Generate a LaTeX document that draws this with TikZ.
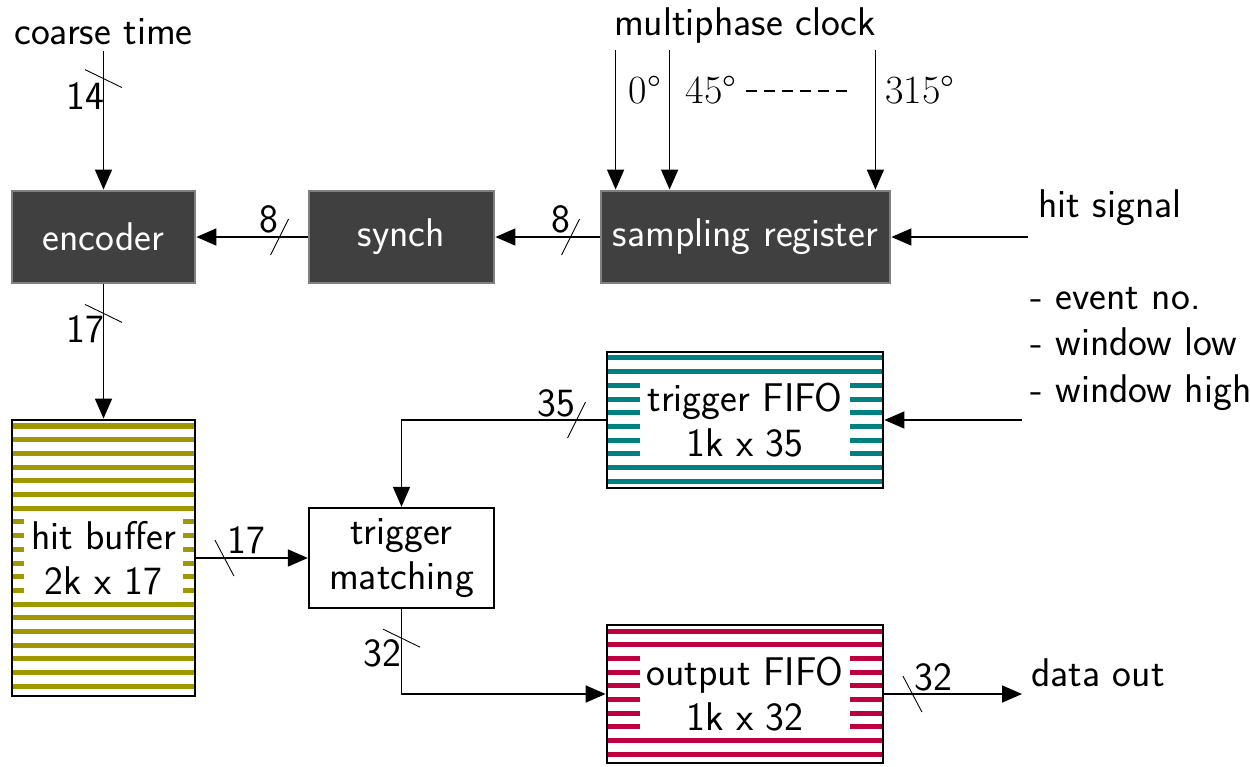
\documentclass[tikz,border=0pt]{standalone}
\usepackage{fontspec}
\usetikzlibrary{arrows.meta}
\definecolor{hitolive}{RGB}{160,152,0}
\definecolor{fifoteal}{RGB}{0,128,128}
\definecolor{fifored}{RGB}{191,0,64}
\definecolor{blockgray}{RGB}{64,64,64}
\tikzset{
  block/.style={draw=gray, line width=1.6pt, fill=blockgray, text=white, minimum height=1.84cm},
  plain/.style={draw, line width=1.3pt, fill=white, align=center},
  memory/.style={draw, line width=1.6pt,
    path picture={\foreach \k in {0,...,21}
      \draw[#1, line width=0.1cm] ([yshift=-0.12cm-\k*0.274cm]path picture bounding box.north west) -- ++(7,0);}},
  memtext/.style={fill=white, align=center, inner xsep=4pt, inner ysep=3pt},
  arr/.style={line width=0.9pt, -{Triangle[length=0.4cm,width=0.34cm]}},
  slash/.style={line width=0.5pt},
  phase/.style={font=\fontsize{22.8}{25.6}\selectfont\rmfamily},
}
\begin{document}
\begin{tikzpicture}[font=\fontsize{22.8}{25.6}\selectfont\sffamily]
\useasboundingbox (0,0) rectangle (25,15.32);
% top row
\node[block, minimum width=3.66cm] (enc) at (2.07,10.58) {encoder};
\node[block, minimum width=3.7cm] (synch) at (8.03,10.58) {synch};
\node[block, minimum width=5.78cm] (samp) at (14.91,10.58) {sampling register};
% memories and matching
\node[memory=hitolive, minimum width=3.66cm, minimum height=5.52cm] (hitbuf) at (2.07,4.16) {};
\node[memtext] (hitbuftxt) at (hitbuf) {hit buffer\\2k x 17};
\node[memory=fifoteal, minimum width=5.52cm, minimum height=2.72cm] (tfifo) at (14.9,6.92) {};
\node[memtext] (tfifotxt) at (tfifo) {trigger FIFO\\1k x 35};
\node[memory=fifored, minimum width=5.52cm, minimum height=2.76cm] (ofifo) at (14.9,1.44) {};
\node[memtext] (ofifotxt) at (ofifo) {output FIFO\\1k x 32};
\node[plain, minimum width=3.7cm, minimum height=2cm] (match) at (8.03,4.16) {trigger\\matching};
% inputs and outputs
\node (ctime) at (2.07,14.68) {coarse time};
\node (clk) at (14.9,14.8) {multiphase clock};
\node (hit) at (22.2,11.16) {hit signal};
\node[align=left, anchor=west, inner sep=0pt, font=\fontsize{22.8}{26.5}\selectfont\sffamily] (trig) at (20.6,8.34) {- event no.\\- window low\\- window high};
\node (dout) at (21.96,1.86) {data out};
\coordinate (hitin) at (20.56,10.58);
\coordinate (trigin) at (20.44,6.92);
\coordinate (outend) at (20.44,1.44);
% clock phases
\coordinate (ph0) at ([xshift=0.32cm]samp.north west);
\coordinate (ph45) at ([xshift=1.4cm]samp.north west);
\coordinate (ph315) at ([xshift=-0.32cm]samp.north east);
\draw[arr] (ph0 |- clk.south) -- (ph0);
\draw[arr] (ph45 |- clk.south) -- (ph45);
\draw[arr] (ph315 |- clk.south) -- (ph315);
\node[phase] (l0) at (12.9,13.52) {0°};
\node[phase] (l45) at (14.22,13.52) {45°};
\node[phase] (l315) at (18.4,13.52) {315°};
\draw[line width=0.9pt, dash pattern=on 0.21cm off 0.15cm] (14.92,13.5) -- (16.94,13.5);
% connectors
\draw[arr] (ctime) -- (enc);
\draw[arr] (enc) -- (hitbuf);
\draw[arr] (synch) -- (enc);
\draw[arr] (samp) -- (synch);
\draw[arr] (hitin) -- (samp);
\draw[arr] (trigin) -- (tfifo);
\draw[arr] (tfifo) -| (match);
\draw[arr] (hitbuf) -- (match);
\draw[arr] (match) |- (ofifo);
\draw[arr] (ofifo) -- (outend);
% bus widths
\coordinate (b14) at ([yshift=2.22cm]enc.north);
\coordinate (b17a) at ([yshift=-0.58cm]enc.south);
\coordinate (b8a) at ([xshift=-0.56cm]synch.west);
\coordinate (b8b) at ([xshift=-0.58cm]samp.west);
\coordinate (b35) at ([xshift=-0.58cm]tfifo.west);
\coordinate (b17b) at ([xshift=0.56cm]hitbuf.east);
\coordinate (b32a) at ([yshift=-0.58cm]match.south);
\coordinate (b32b) at ([xshift=0.56cm]ofifo.east);
\draw[slash] (b14) ++(-0.37,0.18) -- ++(0.74,-0.36);
\draw[slash] (b17a) ++(-0.37,0.18) -- ++(0.74,-0.36);
\draw[slash] (b32a) ++(-0.37,0.18) -- ++(0.74,-0.36);
\draw[slash] (b8a) ++(-0.18,-0.36) -- ++(0.36,0.72);
\draw[slash] (b8b) ++(-0.18,-0.36) -- ++(0.36,0.72);
\draw[slash] (b35) ++(-0.18,-0.36) -- ++(0.36,0.72);
\draw[slash] (b17b) ++(-0.19,0.36) -- ++(0.38,-0.72);
\draw[slash] (b32b) ++(-0.19,0.36) -- ++(0.38,-0.72);
\node (n14) at ([shift={(-0.37,-0.34)}]b14) {14};
\node (n17a) at ([shift={(-0.37,-0.32)}]b17a) {17};
\node (n8a) at ([shift={(-0.22,0.36)}]b8a) {8};
\node (n8b) at ([shift={(-0.2,0.36)}]b8b) {8};
\node (n35) at ([shift={(-0.4,0.34)}]b35) {35};
\node (n17b) at ([shift={(0.44,0.36)}]b17b) {17};
\node (n32a) at ([shift={(-0.38,-0.3)}]b32a) {32};
\node (n32b) at ([shift={(0.42,0.34)}]b32b) {32};
\end{tikzpicture}
\end{document}
